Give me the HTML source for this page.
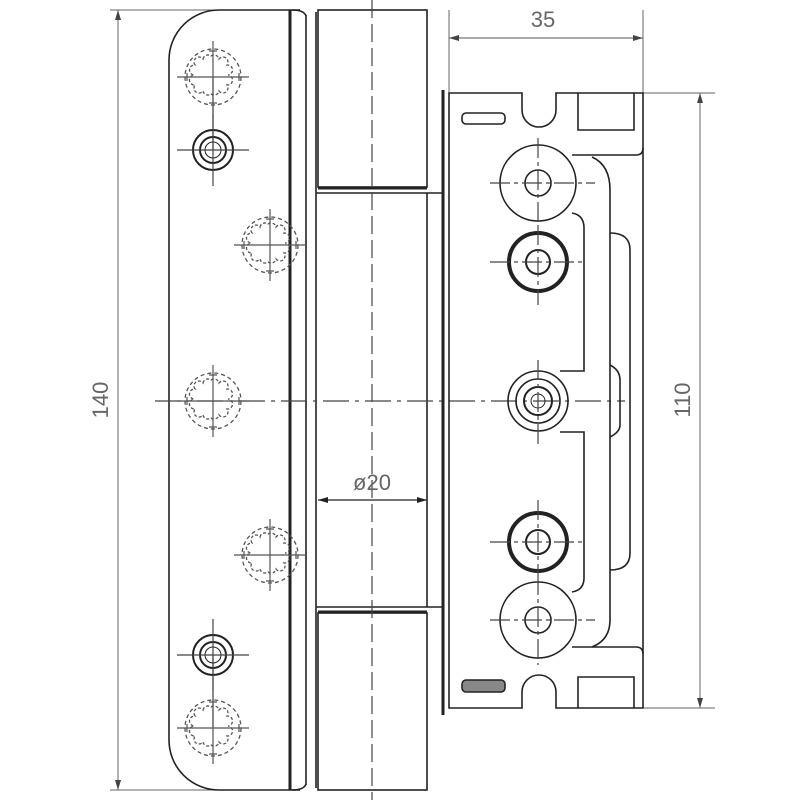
<!DOCTYPE html>
<html><head><style>body{margin:0;background:#fff}svg{display:block}</style></head><body>
<svg width="800" height="800" viewBox="0 0 800 800" xmlns="http://www.w3.org/2000/svg" font-family="Liberation Sans, sans-serif">
<defs>
<g id="star" fill="none" stroke="#555" stroke-width="1.3">
<circle r="28" stroke-dasharray="4 3"/>
<path d="M-10,-18 a5,5 0 0 1 8,-3 a5,5 0 0 1 8,3 a5,5 0 0 1 8,6 a5,5 0 0 1 1,10 a5,5 0 0 1 -1,10 a5,5 0 0 1 -8,6 a5,5 0 0 1 -8,3 a5,5 0 0 1 -8,-3 a5,5 0 0 1 -8,-6 a5,5 0 0 1 -1,-10 a5,5 0 0 1 1,-10 a5,5 0 0 1 8,-6z" stroke-dasharray="3 2"/>
<path d="M-36,0H36M0,-36V36M-4,-26H4M-4,26H4M-26,-4V4M26,-4V4" stroke-width="1.2"/>
</g>
<g id="cs" fill="none" stroke="#222">
<circle r="20" stroke-width="2"/><circle r="13" stroke-width="2"/><circle r="8" stroke-width="1"/>
<path d="M-36,0H36M0,-36V36" stroke="#444" stroke-width="1.2"/>
</g>
</defs>
<g fill="none" stroke="#222" stroke-width="1.6">
<!-- dimension 140 -->
<path d="M110,10H300M110,790H240M118,10V790" stroke="#666" stroke-width="1"/>
<path d="M118,10l-3,10h6zM118,790l-3,-10h6z" fill="#444" stroke="none"/>
<!-- left plate -->
<path d="M300,10H220A50,50 0 0 0 169,60V740A50,50 0 0 0 220,790H300"/>
<path d="M290,10V790" stroke-width="3"/>
<path d="M306,15V785M316,12V788" stroke-width="1.6"/>
<path d="M292,10q12,0 14,6M292,790q12,0 14,-6"/>
<!-- barrel -->
<rect x="318" y="10" width="109" height="177"/>
<rect x="318" y="613" width="109" height="177"/>
<path d="M316,193H443M316,607H443M427,193V607" />
<path d="M318,188H427M318,612H427" stroke-width="3"/>
<path d="M372,0V800" stroke="#444" stroke-width="1.2" stroke-dasharray="18 6"/>
<!-- ø20 -->
<path d="M318,500H427" stroke-width="1.2"/>
<path d="M318,500l10,-3v6zM427,500l-10,-3v6z" fill="#222" stroke="none"/>
<!-- center line -->
<path d="M155,401H625" stroke="#444" stroke-width="1.2" stroke-dasharray="26 6 4 6"/>
<path d="M213,77V150M213,655V728" stroke="#444" stroke-width="1.2"/>
<!-- right bracket -->
<path d="M449,10V93M643,10V93" stroke="#666" stroke-width="1"/>
<path d="M449,38H643" stroke="#555" stroke-width="1"/>
<path d="M449,38l10,-3v6zM643,38l-10,-3v6z" fill="#444" stroke="none"/>
<path d="M643,93H715M643,708H715M700,93V708" stroke="#666" stroke-width="1"/>
<path d="M700,93l-3,10h6zM700,708l-3,-10h6z" fill="#444" stroke="none"/>
<path d="M443,90V715" stroke-width="3"/>
<path d="M449,93H522V110A17,17 0 0 0 556,110V93H643V708H556V692A17,17 0 0 0 522,692V708H449Z"/>
<path d="M578,93V130H634V93M578,708V677H634V708"/>
<rect x="462" y="113" width="43" height="11" rx="4"/>
<rect x="462" y="680" width="43" height="12" rx="4" fill="#888"/>
<path d="M572,155H636Q643,155 643,148M572,647H636Q643,647 643,654"/>
<path d="M592,157Q610,165 610,190V620Q610,640 592,647"/>
<path d="M572,213Q584,215 584,228V371H560M560,432H584V578Q584,590 572,592"/>
<path d="M610,233Q630,233 630,250V553Q630,570 610,570"/>
<path d="M610,365Q620,370 620,380V425Q620,432 610,437"/>
<!-- bracket holes -->
<g stroke-width="1.6">
<circle cx="538" cy="183" r="38"/><circle cx="538" cy="183" r="13"/>
<circle cx="538" cy="620" r="38"/><circle cx="538" cy="620" r="13"/>
<circle cx="538" cy="262" r="29" stroke-width="4"/><circle cx="538" cy="262" r="12" stroke-width="2"/>
<circle cx="538" cy="542" r="29" stroke-width="4"/><circle cx="538" cy="542" r="12" stroke-width="2"/>
<circle cx="538" cy="401" r="30"/><circle cx="538" cy="401" r="22"/><circle cx="538" cy="401" r="14" stroke-width="2"/><circle cx="538" cy="401" r="7" stroke-width="1"/>
</g>
<path d="M490,183H595M538,138V228M490,262H585M538,225V305M490,542H585M538,500V580M490,620H595M538,575V665M538,360V445" stroke="#444" stroke-width="1.2" stroke-dasharray="20 4 4 4"/>
</g>
<use href="#star" x="213" y="77"/>
<use href="#star" x="270" y="245"/>
<use href="#star" x="213" y="401"/>
<use href="#star" x="270" y="555"/>
<use href="#star" x="213" y="728"/>
<use href="#cs" x="213" y="150"/>
<use href="#cs" x="213" y="655"/>
<g fill="#666" font-size="22">
<text x="543" y="27" text-anchor="middle">35</text>
<text x="372" y="490" text-anchor="middle">ø20</text>
<text transform="translate(108,400) rotate(-90)" text-anchor="middle">140</text>
<text transform="translate(690,400) rotate(-90)" text-anchor="middle">110</text>
</g>
</svg>
</body></html>
